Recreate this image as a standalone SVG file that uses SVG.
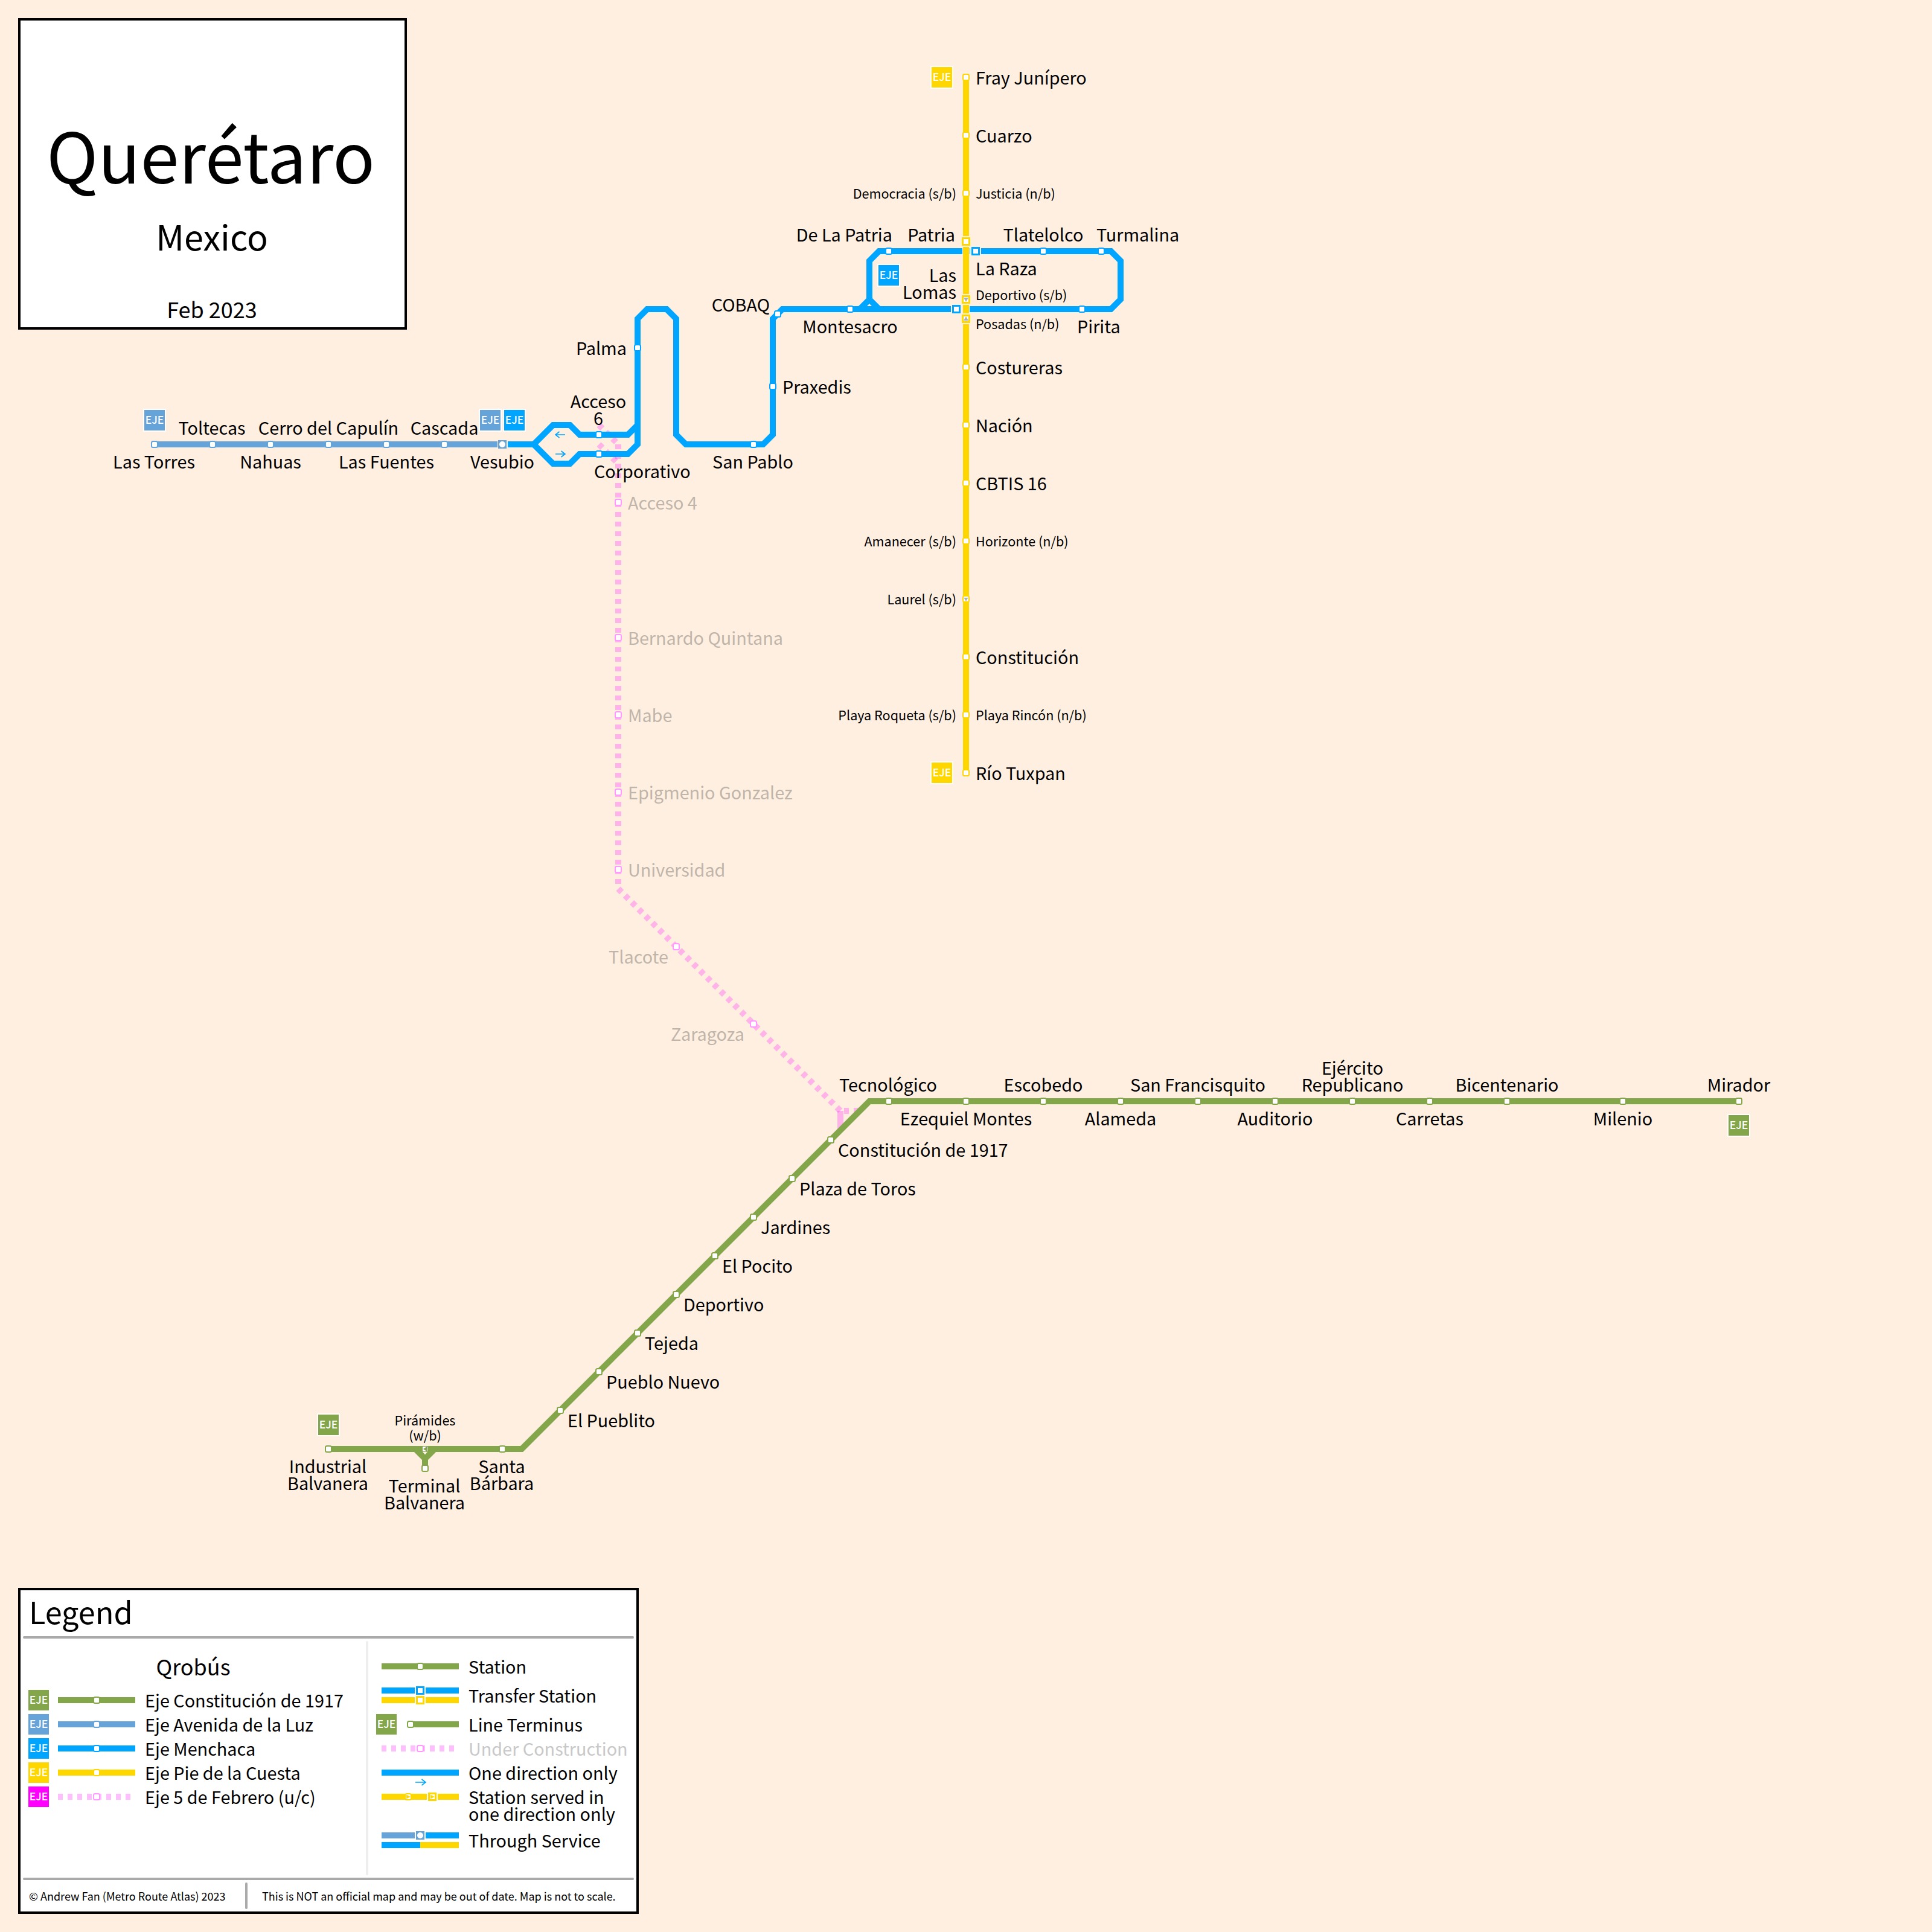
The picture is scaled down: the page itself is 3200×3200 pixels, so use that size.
<svg xmlns="http://www.w3.org/2000/svg" xmlns:xlink="http://www.w3.org/1999/xlink" width="3200" height="3200" viewBox="0 0 3200 3200">
<style>
text{font-family:"Noto Sans CJK JP","Noto Sans",sans-serif;fill:#000}
.l{font-size:28.800px}.s{font-size:21.600px}.g{font-size:28.800px;fill:#bfb5aa}
.m{text-anchor:middle}.e{text-anchor:end}
.line{fill:none;stroke-width:10}
.gr{stroke:#84a64b}.lb{stroke:#66a3d9}.bl{stroke:#00a5ff}.ye{stroke:#ffd700}
.pk{fill:none;stroke:#f0f;stroke-opacity:.25;stroke-width:10;stroke-dasharray:8 8}
.st{fill:#fff;stroke-width:2}
.tr{fill:#fff;stroke-width:3}
.halo{fill:#ffefe0}
.pst{fill:#fff;stroke:#ff99ff;stroke-width:2}
.bt{font-size:17.500px;fill:#fff;text-anchor:middle;font-weight:500}
.arrow{fill:none;stroke:#00a5ff;stroke-width:1.600}
</style>
<defs>
<rect id="s" x="-5" y="-5" width="10" height="10" rx="2.500"/>
<rect id="t" x="-5.500" y="-5.500" width="11" height="11"/>
<rect id="h" x="-9" y="-9" width="18" height="18"/>
</defs>
<rect width="3200" height="3200" fill="#ffefe0"/>

<g id="title-box">
<rect x="32" y="32" width="640" height="512" fill="#fff" stroke="#000" stroke-width="4"/>
<text x="349" y="304" class="m" font-size="115.200">Querétaro</text>
<text x="351" y="415" class="m" font-size="57.600">Mexico</text>
<text x="351" y="527" class="m" font-size="36">Feb 2023</text>
</g>

<g id="connectors">
<path id="line-5-febrero" class="pk" d="M1024 736V1472L1392 1840"/>
<path class="pk" d="M992 704L1024 736M992 736L1024 768"/>
<path d="M1392 1840V1872" fill="none" stroke="#f0f" stroke-opacity=".25" stroke-width="10"/>
<path class="pk" d="M1398 1840H1430"/>
<path id="line-avenida" class="line lb" d="M256 736H824"/>
<path id="line-menchaca" class="line bl" d="M841 736H884L916 704H944L960 720H1040L1056 704M884 736L916 768H944L960 752H1040L1056 736V528L1072 512H1104L1120 528V720L1136 736H1264L1280 720V528L1296 512H1593M1606 512H1840L1856 496V432L1840 416H1606M1594 416H1456L1440 432V496L1456 512M1440 496L1424 512"/>
<path id="line-pie" class="line ye" d="M1600 128V1280"/>
<path id="line-constitucion" class="line gr" d="M544 2400H864L1440 1824H2880M688 2400L704 2416V2432M720 2400L704 2416"/>
<path class="arrow" d="M936 720H920M926.500 715L920 720L926.500 725"/>
<path class="arrow" d="M920 752H936M929.500 747L936 752L929.500 757"/>
</g>

<g id="badges">
<g id="b1"><rect x="238" y="678" width="36" height="36" fill="#66a3d9" stroke="#fff" stroke-width="2"/><text x="256" y="702" class="bt">EJE</text></g>
<g id="b2"><rect x="794" y="678" width="36" height="36" fill="#66a3d9" stroke="#fff" stroke-width="2"/><text x="812" y="702" class="bt">EJE</text></g>
<g id="b3"><rect x="834" y="678" width="36" height="36" fill="#00a5ff" stroke="#fff" stroke-width="2"/><text x="852" y="702" class="bt">EJE</text></g>
<g id="b4"><rect x="1454" y="438" width="36" height="36" fill="#00a5ff" stroke="#fff" stroke-width="2"/><text x="1472" y="462" class="bt">EJE</text></g>
<g id="b5"><rect x="1542" y="110" width="36" height="36" fill="#ffd700" stroke="#fff" stroke-width="2"/><text x="1560" y="134" class="bt">EJE</text></g>
<g id="b6"><rect x="1542" y="1262" width="36" height="36" fill="#ffd700" stroke="#fff" stroke-width="2"/><text x="1560" y="1286" class="bt">EJE</text></g>
<g id="b7"><rect x="2862" y="1846" width="36" height="36" fill="#84a64b" stroke="#fff" stroke-width="2"/><text x="2880" y="1870" class="bt">EJE</text></g>
<g id="b8"><rect x="526" y="2342" width="36" height="36" fill="#84a64b" stroke="#fff" stroke-width="2"/><text x="544" y="2366" class="bt">EJE</text></g>
</g>

<g id="n-las-torres"><use href="#s" x="256" y="736" class="st lb"/><text x="255" y="776" class="l m">Las Torres</text></g>
<g id="n-toltecas"><use href="#s" x="352" y="736" class="st lb"/><text x="351" y="720" class="l m">Toltecas</text></g>
<g id="n-nahuas"><use href="#s" x="448" y="736" class="st lb"/><text x="448" y="776" class="l m">Nahuas</text></g>
<g id="n-cerro"><use href="#s" x="544" y="736" class="st lb"/><text x="544" y="720" class="l m">Cerro del Capulín</text></g>
<g id="n-fuentes"><use href="#s" x="640" y="736" class="st lb"/><text x="640" y="776" class="l m">Las Fuentes</text></g>
<g id="n-cascada"><use href="#s" x="736" y="736" class="st lb"/><text x="736" y="720" class="l m">Cascada</text></g>
<g id="n-vesubio"><rect x="825" y="729" width="14" height="14" fill="#66a3d9"/><circle cx="832" cy="736" r="5" fill="#fff"/><text x="832" y="776" class="l m">Vesubio</text></g>
<g id="n-acceso-6"><use href="#s" x="992" y="720" class="st bl"/><text class="l m" x="991" y="676">Acceso</text><text class="l m" x="991" y="704">6</text></g>
<g id="n-corporativo"><use href="#s" x="992" y="752" class="st bl"/><text x="984" y="792" class="l">Corporativo</text></g>
<g id="n-palma"><use href="#s" x="1056" y="576" class="st bl"/><text x="1038" y="588" class="l e">Palma</text></g>
<g id="n-san-pablo"><use href="#s" x="1248" y="736" class="st bl"/><text x="1247" y="776" class="l m">San Pablo</text></g>
<g id="n-praxedis"><use href="#s" x="1280" y="640" class="st bl"/><text x="1296" y="652" class="l">Praxedis</text></g>
<g id="n-cobaq"><use href="#s" x="1288" y="520" class="st bl"/><text x="1275" y="516" class="l e">COBAQ</text></g>
<g id="n-montesacro"><use href="#s" x="1408" y="512" class="st bl"/><text x="1408" y="552" class="l m">Montesacro</text></g>
<g id="n-de-la-patria"><use href="#s" x="1472" y="416" class="st bl"/><text x="1478" y="400" class="l e">De La Patria</text></g>
<g id="n-tlatelolco"><use href="#s" x="1728" y="416" class="st bl"/><text x="1728" y="400" class="l m">Tlatelolco</text></g>
<g id="n-turmalina"><use href="#s" x="1824" y="416" class="st bl"/><text x="1816" y="400" class="l">Turmalina</text></g>
<g id="n-pirita"><use href="#s" x="1792" y="512" class="st bl"/><text x="1784" y="552" class="l">Pirita</text></g>
<g id="n-las-lomas"><use href="#h" x="1584" y="512" class="halo"/><use href="#t" x="1584" y="512" class="tr bl"/><text class="l e" x="1584" y="467">Las</text><text class="l e" x="1584" y="495">Lomas</text></g>
<g id="n-la-raza"><use href="#h" x="1616" y="416" class="halo"/><use href="#t" x="1616" y="416" class="tr bl"/><text x="1616" y="456" class="l">La Raza</text></g>

<g id="n-fray"><use href="#s" x="1600" y="128" class="st ye"/><text x="1616" y="140" class="l">Fray Junípero</text></g>
<g id="n-cuarzo"><use href="#s" x="1600" y="224" class="st ye"/><text x="1616" y="236" class="l">Cuarzo</text></g>
<g id="n-justicia"><use href="#s" x="1600" y="320" class="st ye"/><text x="1616" y="329" class="s">Justicia (n/b)</text><text x="1584" y="329" class="s e">Democracia (s/b)</text></g>
<g id="n-patria"><use href="#h" x="1600" y="400" class="halo"/><use href="#t" x="1600" y="400" class="tr ye"/><text x="1582" y="400" class="l e">Patria</text></g>
<g id="n-deportivo-sb"><use href="#h" x="1600" y="496" class="halo"/><use href="#t" x="1600" y="496" class="tr ye"/><path d="M1596 493H1604L1600 500Z" fill="#b4b4a8"/><text x="1616" y="497" class="s">Deportivo (s/b)</text></g>
<g id="n-posadas"><use href="#h" x="1600" y="528" class="halo"/><use href="#t" x="1600" y="528" class="tr ye"/><path d="M1596 531H1604L1600 524Z" fill="#b4b4a8"/><text x="1616" y="545" class="s">Posadas (n/b)</text></g>
<g id="n-costureras"><use href="#s" x="1600" y="608" class="st ye"/><text x="1616" y="620" class="l">Costureras</text></g>
<g id="n-nacion"><use href="#s" x="1600" y="704" class="st ye"/><text x="1616" y="716" class="l">Nación</text></g>
<g id="n-cbtis"><use href="#s" x="1600" y="800" class="st ye"/><text x="1616" y="812" class="l">CBTIS 16</text></g>
<g id="n-horizonte"><use href="#s" x="1600" y="896" class="st ye"/><text x="1616" y="905" class="s">Horizonte (n/b)</text><text x="1584" y="905" class="s e">Amanecer (s/b)</text></g>
<g id="n-laurel"><use href="#s" x="1600" y="992" class="st ye"/><path d="M1596.500 990H1603.500L1600 996Z" fill="#b4b4a8"/><text x="1584" y="1001" class="s e">Laurel (s/b)</text></g>
<g id="n-constitucion-y"><use href="#s" x="1600" y="1088" class="st ye"/><text x="1616" y="1100" class="l">Constitución</text></g>
<g id="n-playa"><use href="#s" x="1600" y="1184" class="st ye"/><text x="1616" y="1193" class="s">Playa Rincón (n/b)</text><text x="1584" y="1193" class="s e">Playa Roqueta (s/b)</text></g>
<g id="n-rio"><use href="#s" x="1600" y="1280" class="st ye"/><text x="1616" y="1292" class="l">Río Tuxpan</text></g>

<g id="n-acceso-4"><use href="#s" x="1024" y="832" class="pst"/><text x="1040" y="844" class="g">Acceso 4</text></g>
<g id="n-bernardo"><use href="#s" x="1024" y="1056" class="pst"/><text x="1040" y="1068" class="g">Bernardo Quintana</text></g>
<g id="n-mabe"><use href="#s" x="1024" y="1184" class="pst"/><text x="1040" y="1196" class="g">Mabe</text></g>
<g id="n-epigmenio"><use href="#s" x="1024" y="1312" class="pst"/><text x="1040" y="1324" class="g">Epigmenio Gonzalez</text></g>
<g id="n-universidad"><use href="#s" x="1024" y="1440" class="pst"/><text x="1040" y="1452" class="g">Universidad</text></g>
<g id="n-tlacote"><use href="#s" x="1120" y="1568" class="pst"/><text x="1107" y="1596" class="g e">Tlacote</text></g>
<g id="n-zaragoza"><use href="#s" x="1248" y="1696" class="pst"/><text x="1233" y="1724" class="g e">Zaragoza</text></g>

<g id="n-tecnologico"><use href="#s" x="1472" y="1824" class="st gr"/><text x="1471" y="1808" class="l m">Tecnológico</text></g>
<g id="n-ezequiel"><use href="#s" x="1600" y="1824" class="st gr"/><text x="1600" y="1864" class="l m">Ezequiel Montes</text></g>
<g id="n-escobedo"><use href="#s" x="1728" y="1824" class="st gr"/><text x="1728" y="1808" class="l m">Escobedo</text></g>
<g id="n-alameda"><use href="#s" x="1856" y="1824" class="st gr"/><text x="1856" y="1864" class="l m">Alameda</text></g>
<g id="n-san-francisquito"><use href="#s" x="1984" y="1824" class="st gr"/><text x="1984" y="1808" class="l m">San Francisquito</text></g>
<g id="n-auditorio"><use href="#s" x="2112" y="1824" class="st gr"/><text x="2112" y="1864" class="l m">Auditorio</text></g>
<g id="n-ejercito"><use href="#s" x="2240" y="1824" class="st gr"/><text x="2240" y="1780" class="l m">Ejército</text><text x="2240" y="1808" class="l m">Republicano</text></g>
<g id="n-carretas"><use href="#s" x="2368" y="1824" class="st gr"/><text x="2368" y="1864" class="l m">Carretas</text></g>
<g id="n-bicentenario"><use href="#s" x="2496" y="1824" class="st gr"/><text x="2496" y="1808" class="l m">Bicentenario</text></g>
<g id="n-milenio"><use href="#s" x="2688" y="1824" class="st gr"/><text x="2688" y="1864" class="l m">Milenio</text></g>
<g id="n-mirador"><use href="#s" x="2880" y="1824" class="st gr"/><text x="2880" y="1808" class="l m">Mirador</text></g>
<g id="n-constitucion-1917"><use href="#s" x="1376" y="1888" class="st gr"/><text x="1388" y="1916" class="l">Constitución de 1917</text></g>
<g id="n-plaza"><use href="#s" x="1312" y="1952" class="st gr"/><text x="1324" y="1980" class="l">Plaza de Toros</text></g>
<g id="n-jardines"><use href="#s" x="1248" y="2016" class="st gr"/><text x="1260" y="2044" class="l">Jardines</text></g>
<g id="n-pocito"><use href="#s" x="1184" y="2080" class="st gr"/><text x="1196" y="2108" class="l">El Pocito</text></g>
<g id="n-deportivo"><use href="#s" x="1120" y="2144" class="st gr"/><text x="1132" y="2172" class="l">Deportivo</text></g>
<g id="n-tejeda"><use href="#s" x="1056" y="2208" class="st gr"/><text x="1068" y="2236" class="l">Tejeda</text></g>
<g id="n-pueblo-nuevo"><use href="#s" x="992" y="2272" class="st gr"/><text x="1004" y="2300" class="l">Pueblo Nuevo</text></g>
<g id="n-pueblito"><use href="#s" x="928" y="2336" class="st gr"/><text x="940" y="2364" class="l">El Pueblito</text></g>
<g id="n-santa-barbara"><use href="#s" x="832" y="2400" class="st gr"/><text x="831" y="2440" class="l m">Santa</text><text x="831" y="2468" class="l m">Bárbara</text></g>
<g id="n-piramides"><rect x="700" y="2396" width="8" height="8" fill="#fff"/><path d="M707 2396V2404L701 2400Z" fill="#84a64b"/><path d="M702 2406H706L704 2409Z" fill="#fff"/><text x="704" y="2361" class="s m">Pirámides</text><text x="704" y="2386" class="s m">(w/b)</text></g>
<g id="n-terminal"><use href="#s" x="704" y="2432" class="st gr"/><text x="703" y="2472" class="l m">Terminal</text><text x="703" y="2500" class="l m">Balvanera</text></g>
<g id="n-industrial"><use href="#s" x="544" y="2400" class="st gr"/><text x="543" y="2440" class="l m">Industrial</text><text x="543" y="2468" class="l m">Balvanera</text></g>

<g id="legend">
<rect x="32" y="2632" width="1024" height="536" fill="#fff" stroke="#000" stroke-width="4"/>
<path d="M40 2712H1048M40 3112H1048M408 3120V3160" fill="none" stroke="#aaa" stroke-width="4" stroke-linecap="round"/>
<path d="M608 2720V3104" fill="none" stroke="#eee" stroke-width="4" stroke-linecap="round"/>
<text x="48" y="2690" font-size="50.400">Legend</text>
<text x="320" y="2775" class="m" font-size="36">Qrobús</text>
<rect x="47" y="2799" width="34" height="34" fill="#84a64b"/><text x="64" y="2822" class="bt">EJE</text>
<rect x="47" y="2839" width="34" height="34" fill="#66a3d9"/><text x="64" y="2862" class="bt">EJE</text>
<rect x="47" y="2879" width="34" height="34" fill="#00a5ff"/><text x="64" y="2902" class="bt">EJE</text>
<rect x="47" y="2919" width="34" height="34" fill="#ffd700"/><text x="64" y="2942" class="bt">EJE</text>
<rect x="47" y="2959" width="34" height="34" fill="#f0f"/><text x="64" y="2982" class="bt">EJE</text>
<path class="line gr" d="M96 2816H224"/><use href="#s" x="160" y="2816" class="st gr"/>
<path class="line lb" d="M96 2856H224"/><use href="#s" x="160" y="2856" class="st lb"/>
<path class="line bl" d="M96 2896H224"/><use href="#s" x="160" y="2896" class="st bl"/>
<path class="line ye" d="M96 2936H224"/><use href="#s" x="160" y="2936" class="st ye"/>
<path class="pk" d="M96 2976H224"/><use href="#s" x="160" y="2976" class="pst"/>
<text x="240" y="2828" class="l">Eje Constitución de 1917</text>
<text x="240" y="2868" class="l">Eje Avenida de la Luz</text>
<text x="240" y="2908" class="l">Eje Menchaca</text>
<text x="240" y="2948" class="l">Eje Pie de la Cuesta</text>
<text x="240" y="2988" class="l">Eje 5 de Febrero (u/c)</text>

<path class="line gr" d="M632 2760H760"/><use href="#s" x="696" y="2760" class="st gr"/>
<path class="line bl" d="M632 2800H687M705 2800H760"/><use href="#t" x="696" y="2800" class="tr bl"/>
<path class="line ye" d="M632 2816H687M705 2816H760"/><use href="#t" x="696" y="2816" class="tr ye"/>
<rect x="623" y="2839" width="34" height="34" fill="#84a64b"/><text x="640" y="2862" class="bt">EJE</text>
<path class="line gr" d="M680 2856H760"/><use href="#s" x="680" y="2856" class="st gr"/>
<path class="pk" d="M632 2896H760"/><use href="#s" x="696" y="2896" class="pst"/>
<path class="line bl" d="M632 2936H760"/>
<path class="arrow" d="M688 2952H705M698.500 2947L705 2952L698.500 2957"/>
<path class="line ye" d="M632 2976H707M725 2976H760"/>
<use href="#s" x="676" y="2976" class="st ye"/><path d="M673 2972.500V2979.500L680 2976Z" fill="#ffd700"/>
<use href="#t" x="716" y="2976" class="tr ye"/><path d="M713 2972.500V2979.500L720 2976Z" fill="#ffd700"/>
<path class="line lb" d="M632 3040H687"/><path class="line bl" d="M705 3040H760"/>
<rect x="689" y="3033" width="14" height="14" fill="#66a3d9"/><circle cx="696" cy="3040" r="5" fill="#fff"/>
<path class="line bl" d="M632 3056H696"/><path class="line ye" d="M696 3056H760"/>
<text x="776" y="2772" class="l">Station</text>
<text x="776" y="2820" class="l">Transfer Station</text>
<text x="776" y="2868" class="l">Line Terminus</text>
<text x="776" y="2908" class="l" style="fill:#c8c8c8">Under Construction</text>
<text x="776" y="2948" class="l">One direction only</text>
<text x="776" y="2988" class="l">Station served in</text>
<text x="776" y="3016" class="l">one direction only</text>
<text x="776" y="3060" class="l">Through Service</text>
<text x="48" y="3148" font-size="18">© Andrew Fan (Metro Route Atlas) 2023</text>
<text x="434" y="3148" font-size="18">This is NOT an official map and may be out of date. Map is not to scale.</text>
</g>
</svg>
